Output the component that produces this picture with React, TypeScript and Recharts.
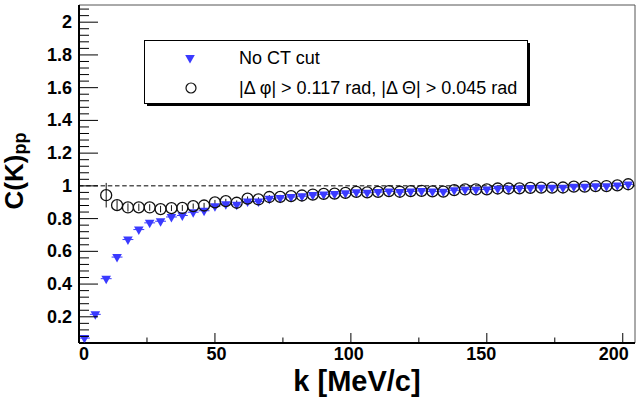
import React from "react";
import { ErrorBar, ReferenceLine, Scatter, ScatterChart, XAxis, YAxis } from "recharts";

// bin centres (4 MeV/c bins) and correlation values
const kNoCut = [
  2, 6, 10, 14, 18, 22, 26, 30, 34, 38, 42, 46, 50, 54, 58, 62, 66, 70, 74, 78, 82, 86, 90, 94, 98,
  102, 106, 110, 114, 118, 122, 126, 130, 134, 138, 142, 146, 150, 154, 158, 162, 166, 170, 174, 178,
  182, 186, 190, 194, 198, 202,
];
const cNoCut = [
  0.07, 0.215, 0.433, 0.565, 0.672, 0.733, 0.774, 0.784, 0.81, 0.819, 0.839, 0.848, 0.875, 0.888, 0.884,
  0.905, 0.904, 0.922, 0.926, 0.932, 0.937, 0.944, 0.948, 0.951, 0.955, 0.961, 0.958, 0.962, 0.966,
  0.962, 0.966, 0.969, 0.965, 0.964, 0.973, 0.977, 0.977, 0.978, 0.983, 0.983, 0.984, 0.987, 0.988,
  0.988, 0.989, 0.994, 0.994, 0.998, 0.998, 1.002, 1.009,
];

const kCut = [
  10, 14, 18, 22, 26, 30, 34, 38, 42, 46, 50, 54, 58, 62, 66, 70, 74, 78, 82, 86, 90, 94, 98, 102, 106,
  110, 114, 118, 122, 126, 130, 134, 138, 142, 146, 150, 154, 158, 162, 166, 170, 174, 178, 182, 186,
  190, 194, 198, 202,
];
const cCut = [
  0.943, 0.882, 0.868, 0.869, 0.868, 0.858, 0.864, 0.865, 0.876, 0.88, 0.899, 0.907, 0.897, 0.922,
  0.917, 0.932, 0.933, 0.937, 0.941, 0.947, 0.951, 0.953, 0.957, 0.963, 0.96, 0.963, 0.968, 0.964,
  0.968, 0.97, 0.966, 0.965, 0.974, 0.978, 0.978, 0.979, 0.984, 0.984, 0.985, 0.988, 0.989, 0.989,
  0.99, 0.995, 0.995, 0.999, 0.999, 1.003, 1.01,
];
const errCut = [
  0.075, 0.03, 0.025, 0.022, 0.02, 0.02, 0.018, 0.018, 0.016, 0.016, 0.015, 0.014, 0.014, 0.013, 0.013,
  0.012, 0.012, 0.012, 0.011, 0.011, 0.011, 0.01, 0.01, 0.01, 0.01, 0.01, 0.009, 0.009, 0.009, 0.009,
  0.009, 0.009, 0.008, 0.008, 0.008, 0.008, 0.008, 0.008, 0.008, 0.008, 0.008, 0.008, 0.008, 0.008,
  0.008, 0.008, 0.008, 0.008, 0.008,
];
const binHalfWidth = 2;

const xTicks = [0, 25, 50, 75, 100, 125, 150, 175, 200];
const yTicks = Array.from({ length: 52 }, (_, i) => +(0.04 * (i + 1)).toFixed(2));

const X_MAX = 204.5;
const Y_MIN = 0.04;
const Y_MAX = 2.105;

const BLUE = "#3a3aff";
const FONT = "'Liberation Sans', Arial, Helvetica, sans-serif";

const noCutData = kNoCut.map((k, i) => ({ k, c: cNoCut[i], ex: binHalfWidth }));
const cutData = kCut.map((k, i) => ({ k, c: cCut[i], ey: errCut[i] }));

const XTick = (props: any) => {
  const { x, y, payload } = props;
  const v = payload.value;
  const major = v % 50 === 0;
  // labels sit a little right of the tick at the low end, drifting left towards 200
  const shift = 5 - 0.07 * v;
  return (
    <g>
      <line x1={x} x2={x} y1={y} y2={y - (major ? 10 : 5.5)} stroke="#000" strokeWidth={1} />
      {major && (
        <text x={x + shift} y={y + 17} textAnchor="middle" fontSize={18} fontWeight="bold" fontFamily={FONT} fill="#000">
          {v}
        </text>
      )}
    </g>
  );
};

const YTick = (props: any) => {
  const { x, y, payload } = props;
  const v = payload.value;
  const major = Math.abs(v * 5 - Math.round(v * 5)) < 1e-6;
  return (
    <g>
      <line x1={x} x2={x + (major ? 19 : 10)} y1={y} y2={y} stroke="#000" strokeWidth={1} />
      {major && (
        <text x={x - 7} y={y} textAnchor="end" dominantBaseline="central" fontSize={18} fontWeight="bold" fontFamily={FONT} fill="#000">
          {Number(v.toFixed(1)).toString()}
        </text>
      )}
    </g>
  );
};

const DownTri = (props: any) => {
  const { cx, cy } = props;
  if (cx == null || cy == null) return null;
  return <path d={`M${cx - 4.8},${cy - 3} L${cx + 4.8},${cy - 3} L${cx},${cy + 5.5} Z`} fill={BLUE} />;
};

const OpenCircle = (props: any) => {
  const { cx, cy } = props;
  if (cx == null || cy == null) return null;
  return <circle cx={cx} cy={cy} r={5.5} fill="none" stroke="#111" strokeWidth={1.3} />;
};

export default function App() {
  return (
    <div style={{ position: "absolute", left: 0, top: 0, width: 638, height: 399, background: "#fff" }}>
      <ScatterChart width={638} height={399} margin={{ top: 5, right: 3, bottom: 0, left: 19 }}>
        <XAxis
          type="number"
          dataKey="k"
          domain={[0, X_MAX]}
          ticks={xTicks}
          interval={0}
          allowDataOverflow
          height={56}
          tickSize={0}
          tickMargin={0}
          tickLine={false}
          axisLine={{ stroke: "#000", strokeWidth: 2 }}
          tick={<XTick />}
        />
        <YAxis
          type="number"
          dataKey="c"
          domain={[Y_MIN, Y_MAX]}
          ticks={yTicks}
          interval={0}
          allowDataOverflow
          width={60}
          tickSize={0}
          tickMargin={0}
          tickLine={false}
          axisLine={{ stroke: "#000", strokeWidth: 2 }}
          tick={<YTick />}
        />
        <ReferenceLine y={Y_MAX} stroke="#555" strokeWidth={1} />
        <ReferenceLine x={X_MAX} stroke="#555" strokeWidth={1} />
        <ReferenceLine y={1} stroke="#555" strokeWidth={1.5} strokeDasharray="4.5 2.7" />
        <Scatter data={noCutData} shape={<DownTri />} isAnimationActive={false}>
          <ErrorBar dataKey="ex" direction="x" width={0} stroke={BLUE} strokeWidth={1} />
        </Scatter>
        <Scatter data={cutData} shape={<OpenCircle />} isAnimationActive={false}>
          <ErrorBar dataKey="ey" direction="y" width={0} stroke="#111" strokeWidth={1} />
        </Scatter>
      </ScatterChart>

      <svg width={638} height={399} style={{ position: "absolute", left: 0, top: 0, pointerEvents: "none" }}>
        {/* axis titles */}
        <text x={357} y={391} textAnchor="middle" fontSize={29} fontWeight="bold" fontFamily={FONT} fill="#000">
          k [MeV/c]
        </text>
        <text
          x={23}
          y={171}
          transform="rotate(-90, 23, 171)"
          textAnchor="middle"
          fontSize={26}
          fontWeight="bold"
          fontFamily={FONT}
          fill="#000"
        >
          <tspan>C(K)</tspan>
          <tspan fontSize={18} dy={3}>pp</tspan>
        </text>

        {/* legend */}
        <rect x={147} y={43} width={383} height={63} fill="#000" />
        <rect x={144.5} y={40.5} width={383} height={63} fill="#fff" stroke="#000" strokeWidth={1} />
        <DownTri cx={190} cy={58} />
        <text x={239} y={58} dominantBaseline="central" fontSize={18} fontFamily={FONT} fill="#000">
          No CT cut
        </text>
        <circle cx={191} cy={88} r={5} fill="none" stroke="#111" strokeWidth={1.2} />
        <text x={239} y={88} dominantBaseline="central" fontSize={18} fontFamily={FONT} fill="#000">
          |Δ φ| &gt; 0.117 rad, |Δ Θ| &gt; 0.045 rad
        </text>
      </svg>
    </div>
  );
}
